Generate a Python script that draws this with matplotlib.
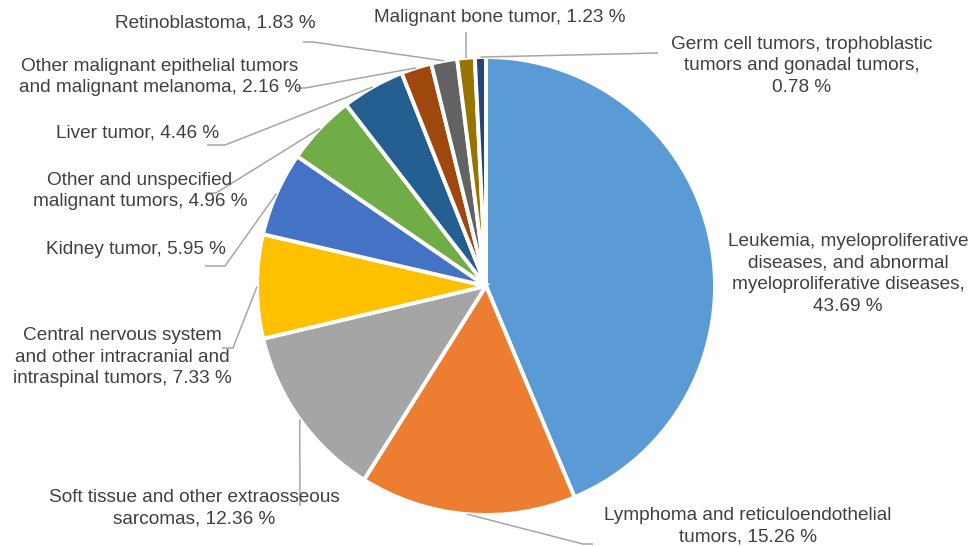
import numpy as np
import matplotlib
matplotlib.use('Agg')
import matplotlib.pyplot as plt

W, H = 972, 546

# Categories (clockwise from the top) and their shares in percent
names = [
    "Leukemia, myeloproliferative\ndiseases, and abnormal\nmyeloproliferative diseases",
    "Lymphoma and reticuloendothelial\ntumors",
    "Soft tissue and other extraosseous\nsarcomas",
    "Central nervous system\nand other intracranial and\nintraspinal tumors",
    "Kidney tumor",
    "Other and unspecified\nmalignant tumors",
    "Liver tumor",
    "Other malignant epithelial tumors\nand malignant melanoma",
    "Retinoblastoma",
    "Malignant bone tumor",
    "Germ cell tumors, trophoblastic\ntumors and gonadal tumors",
]
values = [43.69, 15.26, 12.36, 7.33, 5.95, 4.96, 4.46, 2.16, 1.83, 1.23, 0.78]
seps = [",\n", ", ", ", ", ", ", ", ", ", ", ", ", ", ", ", ", ", ", ",\n"]
colors = ['#5B9BD5', '#ED7D31', '#A5A5A5', '#FFC000', '#4472C4', '#70AD47',
          '#255E91', '#9E480E', '#636363', '#997300', '#264478']

# label layout in pixel coords (text centre, leader path after the wedge anchor)
text_pos = [(848, 274), (748, 526), (194, 508), (122, 357), (136, 249), (140, 191),
            (138, 133), (160, 77), (215, 23), (500, 18), (802, 66)]
leader = [None,
          [(583, 544), (593, 544)],
          [(300, 506)],
          [(233, 348), (222, 348)],
          [(225, 266), (205, 266)],
          [(216, 193), (206, 193)],
          [(225, 145), (207, 145)],
          [(305, 88), (297, 88)],
          [(313, 42), (303, 42)],
          [None, 32],
          [(658, 53)]]

cx, cy, r = 486, 286, 229

fig = plt.figure(figsize=(W / 100, H / 100), dpi=100)
ax = fig.add_axes([0, 0, 1, 1])

wedges, _ = ax.pie(values, colors=colors, startangle=90, counterclock=False,
                   center=(cx, H - cy), radius=r,
                   wedgeprops=dict(edgecolor='white', linewidth=2.8))

ax.set_xlim(0, W)
ax.set_ylim(0, H)
ax.set_aspect('equal')
ax.axis('off')

for i, w in enumerate(wedges):
    label = names[i] + seps[i] + f"{values[i]:.2f} %"
    tx, ty = text_pos[i]
    ax.text(tx, H - ty, label, ha='center', va='center', fontsize=13.7,
            family=['Liberation Sans', 'DejaVu Sans'], color='#404040',
            linespacing=1.36)
    if leader[i] is None:
        continue
    mid = np.deg2rad((w.theta1 + w.theta2) / 2)
    ax_, ay_ = w.center[0] + r * np.cos(mid), w.center[1] + r * np.sin(mid)
    xs, ys = [ax_], [ay_]
    pts = leader[i]
    if pts[0] is None:
        # straight vertical leader up to given pixel y
        xs.append(ax_)
        ys.append(H - pts[1])
    else:
        for px, py in pts:
            xs.append(px)
            ys.append(H - py)
    ax.plot(xs, ys, color='#a6a6a6', lw=1.1, solid_capstyle='butt')

fig.savefig('out.png', dpi=100)
